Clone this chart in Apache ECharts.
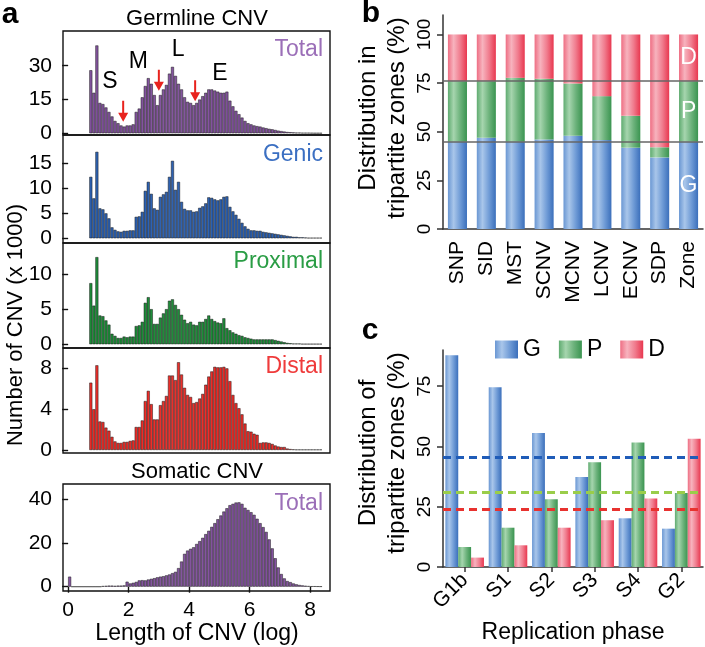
<!DOCTYPE html>
<html>
<head>
<meta charset="utf-8">
<script src="https://cdn.jsdelivr.net/npm/echarts@6/dist/echarts.min.js"></script>
<style>
  html, body { margin: 0; padding: 0; background: #fff; }
  #chart { width: 705px; height: 647px; }
</style>
</head>
<body>
<div id="chart"></div>
<script>
// ---- data ----
const BIN = 0.1;
const germlineStart = 0.7;
const somaticStart = 0.0;

// germline CNV counts (x1000), bins of 0.1 from 0.7 to 8.3
const germTotal = [28, 18, 39, 13.5, 13, 11.5, 9.5, 7.5, 5.5, 4.5, 3.5, 3, 3.5, 3.5, 4,
  9.5, 11, 16, 21, 24.5, 22, 17, 12.5, 17, 19.5,
  21.5, 26.5, 29.5, 25.5, 22, 19.5, 16, 14, 13.5, 12.5,
  13.5, 15, 16.5, 18, 19.5, 19.5, 19, 18.5, 18, 18,
  18.5, 14.5, 12, 10, 8.5, 7, 5.5, 4.5, 4, 3.5,
  3.2, 3, 2.6, 2.3, 2, 1.8, 1.5, 1.2, 1, 0.8,
  0.6, 0.5, 0.4, 0.3, 0.3, 0.2, 0.2, 0.2, 0.15, 0.1, 0.1, 0.1];
const germGenic = [12.3, 8, 17.3, 6, 5.8, 5, 4, 2.2, 1.7, 1.4, 1.3, 1.5, 1.5, 1.6, 1.6,
  4.3, 4.4, 5.3, 9.5, 11.3, 8.9, 6, 5.7, 8.3, 8.8,
  9.3, 12.3, 15.5, 9.7, 11.3, 7.3, 5.9, 5.6, 5.6, 5.3,
  5.4, 6.1, 6.4, 7, 8.2, 8.1, 7.8, 7.6, 7.8, 8.3,
  8.4, 6.3, 5.4, 4.7, 3.9, 3.1, 2.4, 1.9, 1.6, 1.6,
  1.5, 1.5, 1.3, 1.2, 1.1, 1.0, 0.9, 0.8, 0.7, 0.6,
  0.5, 0.4, 0.3, 0.3, 0.2, 0.2, 0.15, 0.1, 0.1, 0.1, 0.1, 0.1];
const germProximal = [8.7, 5.5, 12.4, 4.1, 4, 3.4, 2.8, 1.5, 1.2, 0.9, 0.9, 1.1, 1, 1.1, 1.1,
  2.6, 2.7, 3.2, 5.9, 6.7, 5, 2.9, 2.9, 3.8, 4.4,
  5, 6.2, 6.4, 5.6, 5.0, 4.2, 3.5, 3.0, 3.2, 2.8,
  2.7, 3.2, 3.2, 3.6, 4.1, 3.6, 3.3, 3.1, 3.0, 3.7,
  2.3, 2.0, 1.7, 1.5, 1.3, 1.2, 1.0, 0.9, 0.8, 0.7,
  0.7, 0.7, 0.7, 0.7, 0.7, 0.7, 0.6, 0.5, 0.4, 0.3,
  0.2, 0.15, 0.1, 0.1, 0.1, 0.05, 0.05, 0.05, 0.05, 0.05, 0.05, 0.05];
const germDistal = [6.6, 4, 8.3, 2.8, 2.75, 2.2, 1.9, 1.3, 0.85, 0.7, 0.7, 0.8, 0.8, 0.9, 0.95,
  2.26, 2.26, 2.9, 4.8, 5.8, 4.5, 3.0, 3.0, 4.4, 4.8,
  5.3, 7.3, 7.3, 6.85, 8.6, 7.4, 6.1, 5.4, 5.2, 4.6,
  4.7, 5.05, 5.5, 6.4, 7.2, 7.7, 8.15, 8.1, 8.1, 8.15,
  8.0, 6.75, 5.4, 4.6, 4.1, 3.5, 2.6, 1.85, 1.8, 1.6,
  1.5, 0.7, 0.75, 0.75, 0.7, 0.6, 0.45, 0.35, 0.3, 0.3,
  0.15, 0.1, 0.07, 0.05, 0.05, 0.05, 0.05, 0.05, 0.05, 0.05, 0.05, 0.05];
// somatic CNV counts (x1000), bins of 0.1 from 0.0 to 8.3
const somaticTotal = [4.6, 0, 0, 0, 0, 0, 0, 0, 0, 0,
  0, 0.3, 0.4, 0.5, 0.5, 0.4, 0.5, 0.5, 0.6, 2.3,
  1.5, 1.8, 2.2, 2.9, 3, 2.9, 3.3, 3.6, 3.9, 4.3,
  4.6, 4.8, 5.2, 5.6, 6.2, 6.8, 8.5, 11.5, 15, 16.5,
  17.3, 18, 19.5, 20.8, 22.3, 24, 25.5, 27.3, 29, 30.8,
  32.5, 34.3, 35.8, 37.2, 37.8, 38.4, 38.5, 37.8, 36, 35,
  34, 32.8, 31, 29, 27.2, 25, 21.6, 17.5, 13, 8.8,
  5.8, 3.8, 2.6, 2.1, 1.5, 1.1, 0.8, 0.6, 0.45, 0.3,
  0.2, 0.2, 0.15, 0.1];

// arrows and peak letters on the germline total panel: [x, y]
const arrowMarks = [[1.82, 9.8], [3.0, 23.6], [4.2, 18.9]];
const peakLetters = [['S', 1.38, 22.9], ['M', 2.32, 31.8], ['L', 3.64, 36.9], ['E', 5.02, 26.6]];

// panel b
const bCategories = ['SNP', 'SID', 'MST', 'SCNV', 'MCNV', 'LCNV', 'ECNV', 'SDP', 'Zone'];
const bG = [44.8, 46.9, 44.8, 46, 47.9, 45.7, 41.8, 36.8, 44.8];
const bP = [31.2, 29.1, 32.9, 31.2, 26.9, 22.6, 16.4, 5.2, 31.2];
const bD = [24.0, 24.0, 22.3, 22.8, 25.2, 31.7, 41.8, 58.0, 24.0];
const zoneLines = [45, 76];

// panel c
const cPhases = ['G1b', 'S1', 'S2', 'S3', 'S4', 'G2'];
const cG = [87.8, 74.6, 55.6, 37.3, 20.2, 15.9];
const cP = [8.3, 16.3, 28.1, 43.4, 51.6, 30.7];
const cD = [3.9, 9.0, 16.3, 19.4, 28.4, 53.2];
const cRef = [45.6, 31.1, 23.9];

// ---- chart ----
const FONT = "'Liberation Sans', Arial, Helvetica, sans-serif";
const chart = echarts.init(document.getElementById('chart'));

const toBars = (start, vals) => vals.map((v, i) => [+(start + (i + 0.5) * BIN).toFixed(2), v]);

const grad = (c0, c1, c2, c3) => new echarts.graphic.LinearGradient(0, 0, 1, 0, [
  { offset: 0, color: c0 }, { offset: 0.3, color: c1 }, { offset: 0.65, color: c2 }, { offset: 1, color: c3 }
]);
const blueGrad = grad('#6a97d3', '#a9c6ea', '#6f9bd6', '#3b6fbb');
const greenGrad = grad('#5fab70', '#a6d5ae', '#6cb27b', '#3a9450');
const redGrad = grad('#ee6e83', '#f7b3be', '#f07b8d', '#e8374f');

const histGrids = [
  { top: 31, height: 104 },
  { top: 135, height: 108 },
  { top: 243, height: 105 },
  { top: 348, height: 105 },
  { top: 484, height: 107 }
];
const histY = [
  { min: -0.75, max: 45.4, ticks: [0, 15, 30] },
  { min: -0.94, max: 20.66, ticks: [0, 5, 10, 15] },
  { min: -0.53, max: 14.4, ticks: [0, 5, 10] },
  { min: -0.29, max: 9.99, ticks: [0, 4, 8] },
  { min: -1.96, max: 46.84, ticks: [0, 20, 40] }
];

const grids = histGrids.map(g => ({
  left: 63, top: g.top, width: 267, height: g.height,
  show: true, borderColor: '#111', borderWidth: 1.4, backgroundColor: 'transparent',
  outerBoundsMode: 'none'
}));
grids.push({ left: 443, top: 15, width: 260, height: 214, outerBoundsMode: 'none' });
grids.push({ left: 443, top: 350, width: 260, height: 217, outerBoundsMode: 'none' });

const xAxes = histGrids.map((g, i) => ({
  gridIndex: i, type: 'value', min: -0.17, max: 8.66,
  show: i === 4,
  axisLine: { show: false },
  axisTick: { show: true, length: 6, customValues: [0, 2, 4, 6, 8], lineStyle: { color: '#111', width: 1.4 } },
  axisLabel: { customValues: [0, 2, 4, 6, 8], margin: 9, fontSize: 21, color: '#000', fontFamily: FONT },
  splitLine: { show: false }
}));
xAxes.push({
  gridIndex: 5, type: 'category', data: bCategories,
  axisLine: { show: true, lineStyle: { color: '#333', width: 1.5 } },
  axisTick: { show: false },
  axisLabel: { rotate: 90, margin: 12, fontSize: 21, color: '#000', fontFamily: FONT },
  splitLine: { show: false }
});
xAxes.push({
  gridIndex: 6, type: 'category', data: cPhases,
  axisLine: { show: true, lineStyle: { color: '#333', width: 1.5 } },
  axisTick: { show: true, alignWithLabel: true, length: 5, lineStyle: { color: '#333', width: 1.5 } },
  axisLabel: { rotate: 45, margin: 10, fontSize: 21, color: '#000', fontFamily: FONT },
  splitLine: { show: false }
});

const yAxes = histY.map((a, i) => ({
  gridIndex: i, type: 'value', min: a.min, max: a.max,
  axisLine: { show: false },
  axisTick: { show: true, length: 6, customValues: a.ticks, lineStyle: { color: '#111', width: 1.4 } },
  axisLabel: { customValues: a.ticks, margin: 11, fontSize: 21, color: '#000', fontFamily: FONT },
  splitLine: { show: false }
}));
yAxes.push({
  gridIndex: 5, type: 'value', min: 0, max: 110,
  axisLine: { show: true, lineStyle: { color: '#333', width: 1.5 } },
  axisTick: { show: true, length: 6, customValues: [0, 25, 50, 75, 100], lineStyle: { color: '#333', width: 1.5 } },
  axisLabel: { customValues: [0, 25, 50, 75, 100], rotate: 90, margin: 9, fontSize: 19, color: '#000', fontFamily: FONT },
  splitLine: { show: false }
});
yAxes.push({
  gridIndex: 6, type: 'value', min: 0, max: 90,
  axisLine: { show: true, lineStyle: { color: '#333', width: 1.5 } },
  axisTick: { show: true, length: 6, customValues: [0, 25, 50, 75], lineStyle: { color: '#333', width: 1.5 } },
  axisLabel: { customValues: [0, 25, 50, 75], rotate: 90, margin: 9, fontSize: 19, color: '#000', fontFamily: FONT },
  splitLine: { show: false }
});

function histSeries(idx, name, vals, start, color) {
  return {
    type: 'bar', name: name, xAxisIndex: idx, yAxisIndex: idx,
    data: toBars(start, vals), barWidth: 3.1, silent: true,
    itemStyle: { color: color, borderColor: 'rgba(20,20,20,0.8)', borderWidth: 0.6 }
  };
}

const ARROW = 'path://M4,0L6,0L6,12L10,12L5,21L0,12L4,12Z';
const totalSeries = histSeries(0, 'germTotal', germTotal, germlineStart, '#84559f');
totalSeries.markPoint = {
  silent: true,
  data: arrowMarks.map(([x, y]) => ({
    coord: [x, y], symbol: ARROW, symbolSize: [10, 21],
    itemStyle: { color: '#e8231e' }, label: { show: false }
  })).concat(peakLetters.map(([t, x, y]) => ({
    coord: [x, y], symbol: 'circle', symbolSize: 1,
    itemStyle: { color: 'rgba(0,0,0,0)' },
    label: { show: true, position: 'inside', formatter: t, color: '#000', fontSize: 23, fontFamily: FONT }
  })))
};

const zoneLabel = (vals, letter) => vals.map((v, i) => i === bCategories.length - 1
  ? { value: v, label: { show: true, position: 'inside', formatter: letter, color: '#fff', fontSize: 23, fontFamily: FONT } }
  : v);

const bSeries = [
  { name: 'G', data: zoneLabel(bG, 'G'), color: blueGrad },
  { name: 'P', data: zoneLabel(bP, 'P'), color: greenGrad },
  { name: 'D', data: zoneLabel(bD, 'D'), color: redGrad }
].map(s => ({
  type: 'bar', name: s.name, xAxisIndex: 5, yAxisIndex: 5, stack: 'zones',
  barWidth: '66%', data: s.data, itemStyle: { color: s.color }, silent: true
}));
bSeries[0].markLine = {
  silent: true, symbol: 'none', label: { show: false },
  lineStyle: { color: '#666', width: 1.6, type: 'solid' },
  data: zoneLines.map(v => ({ yAxis: v }))
};

const refColors = ['#1f5cb8', '#9acd4a', '#e8322f'];
const cSeries = [
  { name: 'G', data: cG, color: blueGrad },
  { name: 'P', data: cP, color: greenGrad },
  { name: 'D', data: cD, color: redGrad }
].map((s, i) => ({
  type: 'bar', name: s.name, xAxisIndex: 6, yAxisIndex: 6,
  barGap: '0%', barCategoryGap: '11%', data: s.data, itemStyle: { color: s.color }, silent: true,
  markLine: {
    silent: true, symbol: 'none', label: { show: false }, z: 10,
    lineStyle: { color: refColors[i], width: 3, type: [8, 5] },
    data: [{ yAxis: cRef[i] }]
  }
}));

function txt(text, x, y, size, opts) {
  opts = opts || {};
  return {
    type: 'text', x: x, y: y, silent: true, rotation: opts.rotation || 0,
    style: {
      text: text, fill: opts.fill || '#000',
      fontSize: size, fontFamily: FONT, fontWeight: opts.bold ? 'bold' : 'normal',
      lineHeight: opts.lineHeight,
      textAlign: opts.align || 'center', textVerticalAlign: 'middle',
      align: opts.align || 'center', verticalAlign: 'middle'
    }
  };
}
const rightLabel = (text, y, color) => txt(text, 323, y, 23, { fill: color, align: 'right' });

const option = {
  animation: false,
  grid: grids,
  xAxis: xAxes,
  yAxis: yAxes,
  legend: {
    data: ['G', 'P', 'D'], left: 490, top: 333, icon: 'rect',
    itemWidth: 23, itemHeight: 18, itemGap: 18, selectedMode: false,
    textStyle: { fontSize: 23, color: '#000', fontFamily: FONT }
  },
  series: [
    totalSeries,
    histSeries(1, 'germGenic', germGenic, germlineStart, '#2e62b2'),
    histSeries(2, 'germProximal', germProximal, germlineStart, '#1f8d3a'),
    histSeries(3, 'germDistal', germDistal, germlineStart, '#ec2f2a'),
    histSeries(4, 'somaticTotal', somaticTotal, somaticStart, '#84559f')
  ].concat(bSeries, cSeries),
  graphic: [
    txt('a', 10, 15, 30, { bold: true }),
    txt('b', 371, 14, 30, { bold: true }),
    txt('c', 370, 331, 30, { bold: true }),
    txt('Germline CNV', 197, 19, 22),
    txt('Somatic CNV', 197, 472, 22),
    txt('Length of CNV (log)', 197, 634, 23),
    txt('Number of CNV (x 1000)', 16, 325, 22, { rotation: Math.PI / 2 }),
    rightLabel('Total', 50, '#9b6fb8'),
    rightLabel('Genic', 155, '#3b6fc2'),
    rightLabel('Proximal', 262, '#2a9d45'),
    rightLabel('Distal', 367, '#ef3b3b'),
    rightLabel('Total', 504, '#9b6fb8'),
    txt('Distribution in\ntripartite zones (%)', 383, 118, 24, { lineHeight: 29, rotation: Math.PI / 2 }),
    txt('Distribution of\ntripartite zones (%)', 383, 453, 24, { lineHeight: 29, rotation: Math.PI / 2 }),
    txt('Replication phase', 573, 633, 23)
  ]
};

chart.setOption(option);
</script>
</body>
</html>
